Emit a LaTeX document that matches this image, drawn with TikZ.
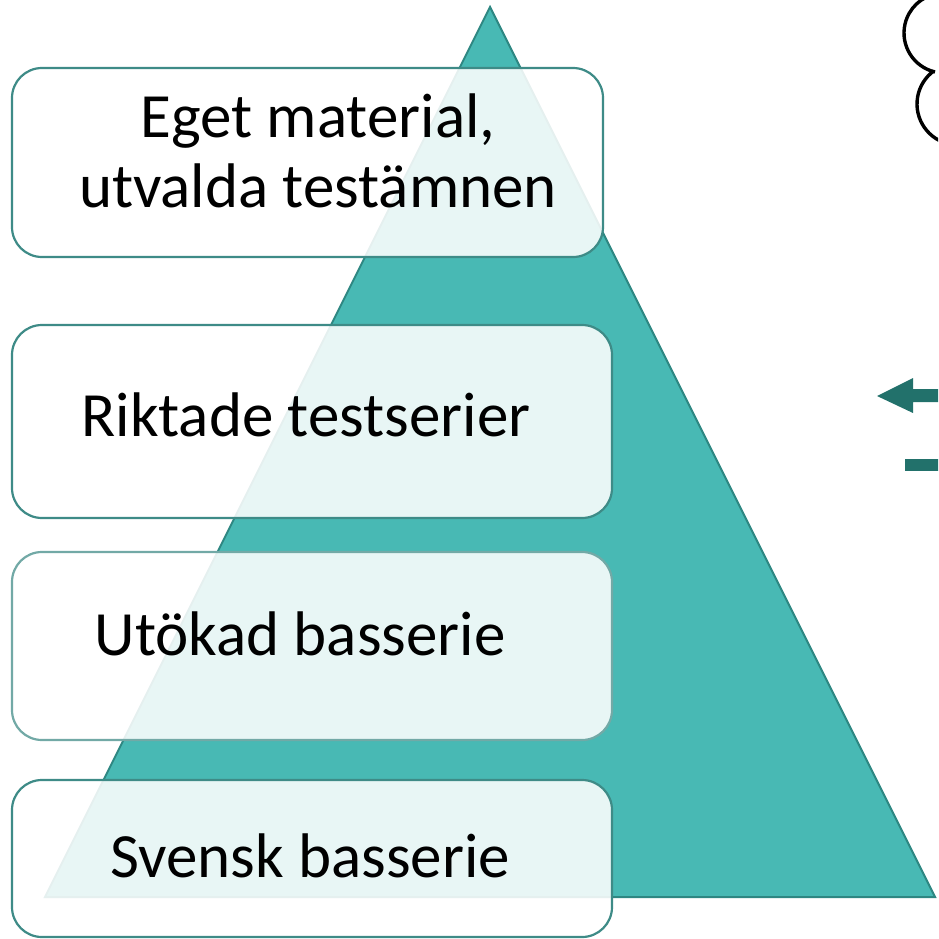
\documentclass[tikz,border=0pt]{standalone}
\usepackage{fontspec}
\setmainfont{Carlito}
\usetikzlibrary{calc}
\definecolor{trifill}{HTML}{48B9B4}
\definecolor{tridark}{HTML}{2E8782}
\definecolor{boxline}{HTML}{3E8B87}
\definecolor{boxlight}{HTML}{72A9A6}
\definecolor{arrowteal}{HTML}{22716B}
\tikzset{
  box/.style={draw=boxline, line width=2.2pt, fill=white, fill opacity=0.88, draw opacity=1, rounded corners=30pt, inner sep=0pt},
  lbl/.style={font=\fontsize{63}{70}\selectfont, align=center, text=black, inner sep=0pt},
  cloudline/.style={draw=black, line width=3.4pt},
  arrowshape/.style={fill=arrowteal, draw=none}
}
\begin{document}
\begin{tikzpicture}[x=1pt,y=-1pt]
\useasboundingbox (0,0) rectangle (938,939);
\clip (0,0) rectangle (938,939);
% pyramid
\coordinate (apex) at (490,7);
\coordinate (bright) at (935,897);
\coordinate (bleft) at (45,897);
\path[fill=trifill, draw=tridark, line width=2pt, line join=miter] (apex) -- (bright) -- (bleft) -- cycle;
% boxes
\node[box, minimum width=591pt, minimum height=189pt] (b1) at (307.5,162.5) {};
\node[box, minimum width=600pt, minimum height=193pt] (b2) at (312,421.5) {};
\node[box, draw=boxlight, minimum width=600pt, minimum height=188pt] (b3) at (312,646) {};
\node[box, minimum width=600pt, minimum height=157pt] (b4) at (312,858.5) {};
% labels
\node[lbl] (t1) at (318,150.5) {Eget material,\\utvalda testämnen};
\node[lbl, anchor=base] (t2) at (306,436) {Riktade testserier};
\node[lbl, anchor=base] (t3) at (300,655) {Utökad basserie};
\node[lbl, anchor=base] (t4) at (310,877) {Svensk basserie};
% cloud fragment top right
\coordinate (c1) at (944,33);
\coordinate (c2) at (958,104);
\draw[cloudline] ($(c1)+(103:40)$) arc[start angle=103, end angle=260, radius=40];
\draw[cloudline] ($(c2)+(100:41)$) arc[start angle=100, end angle=234, radius=41];
% arrow and dash
\coordinate (tip) at (877,396);
\path[arrowshape] (tip) -- (913,378) -- (913,389) -- (945,389) -- (945,402) -- (913,402) -- (913,413) -- cycle;
\path[arrowshape] (905,459) rectangle (945,471);
\end{tikzpicture}
\end{document}
